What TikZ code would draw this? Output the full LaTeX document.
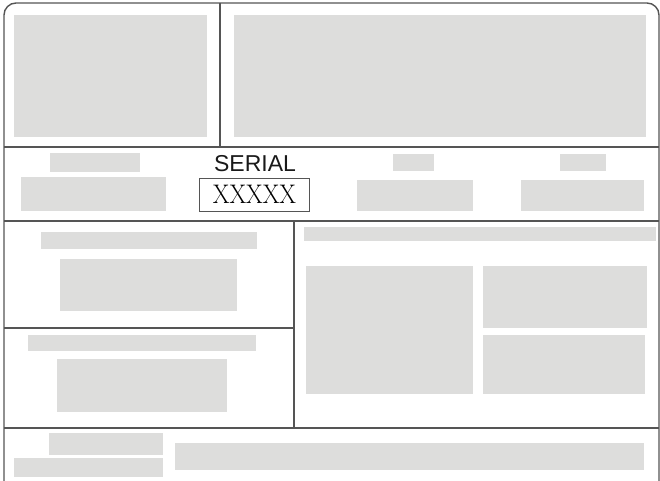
\documentclass[tikz,border=0pt]{standalone}
\usepackage{fontspec}
\newfontfamily\labelfont{Liberation Sans}
\usetikzlibrary{fit}
\definecolor{linec}{HTML}{555555}
\definecolor{boxc}{HTML}{DDDDDC}
\tikzset{
  frameline/.style={draw=linec, line width=1.4pt},
  gbox/.style={fill=boxc, draw=none, inner sep=0pt},
  serialbox/.style={draw=linec, line width=1pt, fill=white, inner sep=0pt}
}
\newcommand{\gb}[5]{\node[gbox, fit={(#2,#3) (#4,#5)}] (#1) {};}
\begin{document}
\begin{tikzpicture}[x=1pt, y=-1pt]
\useasboundingbox (0,0) rectangle (660,480);
\clip (0,0) rectangle (660,480);
% outer frame
\draw[frameline, rounded corners=12pt] (4,495) -- (4,3) -- (659,3) -- (659,495);
% dividers
\coordinate (h1l) at (4,147); \coordinate (h1r) at (659,147);
\coordinate (h2l) at (4,221); \coordinate (h2r) at (659,221);
\coordinate (h3l) at (4,328); \coordinate (h3r) at (294,328);
\coordinate (h4l) at (4,428); \coordinate (h4r) at (659,428);
\coordinate (v1t) at (220,3); \coordinate (v1b) at (220,147);
\coordinate (v2t) at (294,221); \coordinate (v2b) at (294,428);
\draw[frameline] (h1l) -- (h1r);
\draw[frameline] (h2l) -- (h2r);
\draw[frameline] (h3l) -- (h3r);
\draw[frameline] (h4l) -- (h4r);
\draw[frameline] (v1t) -- (v1b);
\draw[frameline] (v2t) -- (v2b);
% top row
\gb{topl}{14}{15}{207}{137}
\gb{topr}{234}{15}{646}{137}
% second row
\gb{lab1}{50}{153}{140}{172}
\gb{in1}{21}{177}{166}{211}
\gb{lab3}{393}{154}{434}{171}
\gb{in3}{357}{180}{473}{211}
\gb{lab4}{560}{154}{606}{171}
\gb{in4}{521}{180}{644}{211}
\node[font=\fontsize{23}{23}\labelfont, text=black!90, anchor=base] (serial) at (255,171.5) {SERIAL};
\node[serialbox, minimum width=110pt, minimum height=33pt] (serbox) at (254,194.5) {};
\node[text=black, font=\fontsize{24}{24}\selectfont, anchor=base, yscale=1.12] (xs) at (254.5,203) {XXXXX};
% left panels
\gb{lbar1}{41}{232}{257}{249}
\gb{lbox1}{60}{259}{237}{311}
\gb{lbar2}{28}{335}{256}{351}
\gb{lbox2}{57}{359}{227}{412}
% right panel
\gb{rbar}{304}{227}{656}{241}
\gb{rbig}{306}{266}{473}{394}
\gb{rtop}{483}{266}{647}{328}
\gb{rbot}{483}{335}{645}{394}
% bottom row
\gb{blab}{49}{433}{163}{455}
\gb{bin}{14}{458}{163}{477}
\gb{bbar}{175}{443}{644}{470}
\end{tikzpicture}
\end{document}
